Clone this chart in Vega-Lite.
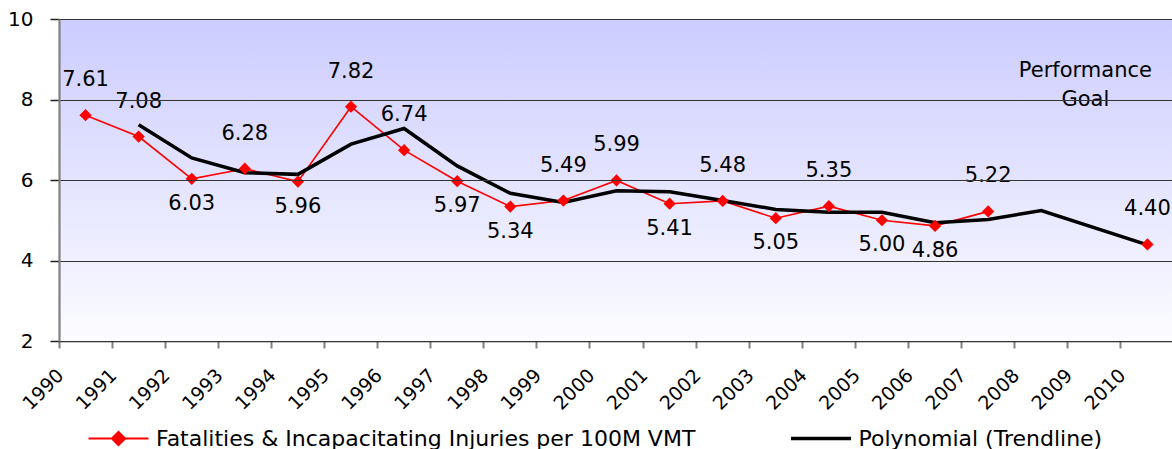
{
  "$schema": "https://vega.github.io/schema/vega-lite/v6.json",
  "width": 1115,
  "height": 322,
  "autosize": {"type": "none"},
  "padding": {"left": 59, "top": 19, "right": 0, "bottom": 108},
  "background": "white",
  "config": {"view": {"stroke": null}, "font": "DejaVu Sans"},
  "datasets": {
    "main": [
      {"year": 1990, "value": 7.61, "trend": null, "side": "above"},
      {"year": 1991, "value": 7.08, "trend": 7.37, "side": "above"},
      {"year": 1992, "value": 6.03, "trend": 6.55, "side": "below"},
      {"year": 1993, "value": 6.28, "trend": 6.18, "side": "above"},
      {"year": 1994, "value": 5.96, "trend": 6.14, "side": "below"},
      {"year": 1995, "value": 7.82, "trend": 6.89, "side": "above"},
      {"year": 1996, "value": 6.74, "trend": 7.28, "side": "above"},
      {"year": 1997, "value": 5.97, "trend": 6.35, "side": "below"},
      {"year": 1998, "value": 5.34, "trend": 5.67, "side": "below"},
      {"year": 1999, "value": 5.49, "trend": 5.44, "side": "above"},
      {"year": 2000, "value": 5.99, "trend": 5.73, "side": "above"},
      {"year": 2001, "value": 5.41, "trend": 5.71, "side": "below"},
      {"year": 2002, "value": 5.48, "trend": 5.49, "side": "above"},
      {"year": 2003, "value": 5.05, "trend": 5.27, "side": "below"},
      {"year": 2004, "value": 5.35, "trend": 5.20, "side": "above"},
      {"year": 2005, "value": 5.00, "trend": 5.20, "side": "below"},
      {"year": 2006, "value": 4.86, "trend": 4.94, "side": "below"},
      {"year": 2007, "value": 5.22, "trend": 5.02, "side": "above"},
      {"year": 2008, "value": null, "trend": 5.24, "side": null},
      {"year": 2009, "value": null, "trend": null, "side": null},
      {"year": 2010, "value": 4.40, "trend": 4.39, "side": "above"}
    ]
  },
  "data": {"name": "main"},
  "layer": [
    {
      "data": {"values": [{}]},
      "mark": {
        "type": "rect",
        "fill": {
          "gradient": "linear", "x1": 0, "y1": 0, "x2": 0, "y2": 1,
          "stops": [
            {"offset": 0, "color": "#CCCCFF"},
            {"offset": 1, "color": "#FCFCFF"}
          ]
        }
      },
      "encoding": {
        "y": {"datum": 10, "type": "quantitative", "scale": {"domain": [2, 10], "nice": false}},
        "y2": {"datum": 2}
      }
    },
    {
      "transform": [{"filter": "datum.value != null && datum.year <= 2007"}],
      "mark": {"type": "line", "strokeWidth": 1.6},
      "encoding": {
        "x": {
          "field": "year", "type": "ordinal",
          "scale": {"type": "band", "domain": [1990,1991,1992,1993,1994,1995,1996,1997,1998,1999,2000,2001,2002,2003,2004,2005,2006,2007,2008,2009,2010], "paddingInner": 0, "paddingOuter": 0},
          "axis": {
            "title": null, "bandPosition": 0, "labelAngle": -45, "labelAlign": "right", "labelBaseline": "middle",
            "labelFont": "DejaVu Sans", "labelFontSize": 19, "labelColor": "#000000", "labelPadding": 24,
            "labelOffset": -25, "labelOverlap": false, "labelFlush": false,
            "tickSize": 7, "tickColor": "#808080", "tickWidth": 2,
            "domainColor": "#222222", "domainWidth": 1.5, "grid": false
          }
        },
        "y": {
          "field": "value", "type": "quantitative",
          "scale": {"domain": [2, 10], "nice": false},
          "axis": {
            "title": null, "values": [2, 4, 6, 8, 10], "zindex": 1,
            "labelFont": "DejaVu Sans", "labelFontSize": 20, "labelColor": "#000000", "labelPadding": 17,
            "tickSize": 9, "tickColor": "#222222", "tickWidth": 1.5,
            "domainColor": "#808080", "domainWidth": 2.2,
            "grid": true, "gridColor": "#333333", "gridWidth": 1.2
          }
        },
        "color": {
          "datum": "Fatalities & Incapacitating Injuries per 100M VMT", "type": "nominal",
          "scale": {"domain": ["Fatalities & Incapacitating Injuries per 100M VMT", "Polynomial (Trendline)"], "range": ["#FF0000", "#000000"]},
          "legend": {
            "title": null, "orient": "none", "legendX": 48.5, "legendY": 408.5, "direction": "horizontal",
            "padding": 0, "symbolSize": 3600, "labelOffset": 26.5, "columnPadding": 88.5,
            "labelFont": "DejaVu Sans", "labelFontSize": 22, "labelColor": "#000000", "labelLimit": 1000,
            "encode": {
              "symbols": {
                "update": {
                  "shape": {"signal": "datum.value === 'Polynomial (Trendline)' ? 'M-1,0H1' : 'M-1,0H1M0,-0.22L0.22,0L0,0.22L-0.22,0Z'"},
                  "fill": {"signal": "datum.value === 'Polynomial (Trendline)' ? 'transparent' : '#FF0000'"},
                  "stroke": {"signal": "datum.value === 'Polynomial (Trendline)' ? '#000000' : '#FF0000'"},
                  "strokeWidth": {"signal": "datum.value === 'Polynomial (Trendline)' ? 3.5 : 2"},
                  "opacity": {"value": 1}
                }
              }
            }
          }
        }
      }
    },
    {
      "transform": [{"filter": "datum.trend != null"}],
      "mark": {"type": "line", "strokeWidth": 3.5},
      "encoding": {
        "x": {"field": "year", "type": "ordinal"},
        "y": {"field": "trend", "type": "quantitative"},
        "color": {"datum": "Polynomial (Trendline)", "type": "nominal"}
      }
    },
    {
      "transform": [{"filter": "datum.value != null"}],
      "mark": {"type": "point", "shape": "diamond", "filled": true, "size": 150, "color": "#FF0000", "opacity": 1},
      "encoding": {
        "x": {"field": "year", "type": "ordinal"},
        "y": {"field": "value", "type": "quantitative"}
      }
    },
    {
      "transform": [{"filter": "datum.side == 'above'"}],
      "mark": {"type": "text", "dy": -35, "fontSize": 21, "font": "DejaVu Sans", "color": "#000000", "baseline": "middle"},
      "encoding": {
        "x": {"field": "year", "type": "ordinal"},
        "y": {"field": "value", "type": "quantitative"},
        "text": {"field": "value", "type": "quantitative", "format": ".2f"}
      }
    },
    {
      "transform": [{"filter": "datum.side == 'below'"}],
      "mark": {"type": "text", "dy": 25, "fontSize": 21, "font": "DejaVu Sans", "color": "#000000", "baseline": "middle"},
      "encoding": {
        "x": {"field": "year", "type": "ordinal"},
        "y": {"field": "value", "type": "quantitative"},
        "text": {"field": "value", "type": "quantitative", "format": ".2f"}
      }
    },
    {
      "data": {"values": [{}]},
      "mark": {"type": "text", "text": ["Performance", "Goal"], "fontSize": 21, "font": "DejaVu Sans", "color": "#000000", "baseline": "middle", "align": "center", "lineHeight": 29, "dx": -9},
      "encoding": {
        "x": {"datum": 2009, "type": "ordinal"},
        "y": {"datum": 8.7, "type": "quantitative"}
      }
    }
  ]
}
